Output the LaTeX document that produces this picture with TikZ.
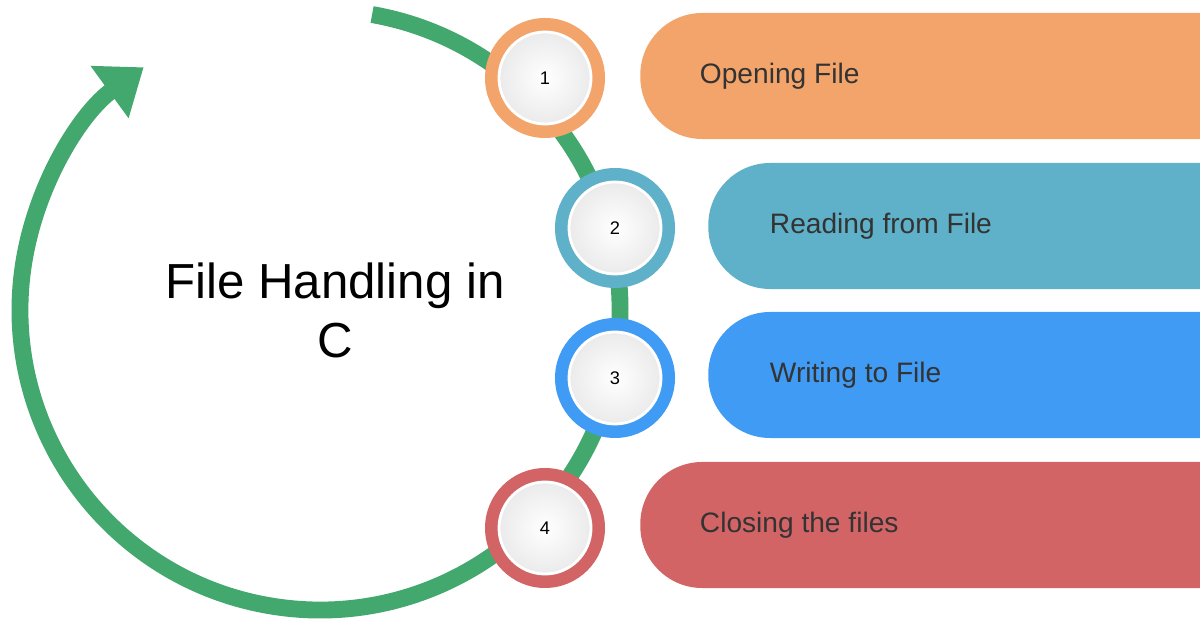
\documentclass[tikz,border=0pt]{standalone}
\usepackage{fontspec}
\setmainfont{Liberation Sans}
\usetikzlibrary{arrows.meta,positioning}
\definecolor{arcgreen}{HTML}{43A86E}
\definecolor{cOrange}{HTML}{F2A46A}
\definecolor{cTeal}{HTML}{5FB1C9}
\definecolor{cBlue}{HTML}{3F9BF3}
\definecolor{cRed}{HTML}{D26466}
\tikzstyle{pill} = [rounded corners=1.55cm, minimum height=3.15cm, anchor=west, text width=20cm, inner sep=0pt]
\tikzstyle{label} = [font=\fontsize{20}{24}\selectfont, anchor=west, text=black!80]
\tikzstyle{num} = [circle, minimum size=2.3cm, draw=white, line width=2pt, inner color=white, outer color=black!8, font=\fontsize{13}{15}\selectfont]

\begin{document}
\begin{tikzpicture}[x=0.025cm, y=0.025cm]
    \useasboundingbox (0,0) rectangle (1200,628);
    \clip (0,0) rectangle (1200,628);

    % Arc
    \coordinate (centre) at (320,318);
    \draw[arcgreen, line width=12, -{Triangle[length=30, width=44]}]
        ([shift={(80:300)}]centre) arc[start angle=80, end angle=-234, radius=300];

    % Bars
    \node (bar1) [pill, fill=cOrange]  at (640,552) {};
    \node (bar2) [pill, fill=cTeal]    at (708,402) {};
    \node (bar3) [pill, fill=cBlue]    at (708,253) {};
    \node (bar4) [pill, fill=cRed]     at (640,103) {};

    \node [label] at (695,552) {Opening File};
    \node [label] at (765,402) {Reading from File};
    \node [label] at (765,253) {Writing to File};
    \node [label] at (695,103) {Closing the files};

    % Steps
    \foreach \n/\x/\y/\c in {1/545/550/cOrange, 2/615/400/cTeal, 3/615/250/cBlue, 4/545/100/cRed} {
        \fill[\c] (\x,\y) circle (60);
        \node (step\n) [num] at (\x,\y) {\n};
    }

    % Title
    \node (title) [align=center, font=\fontsize{35}{42}\selectfont] at (335,318) {File Handling in\\C};
\end{tikzpicture}
\end{document}
